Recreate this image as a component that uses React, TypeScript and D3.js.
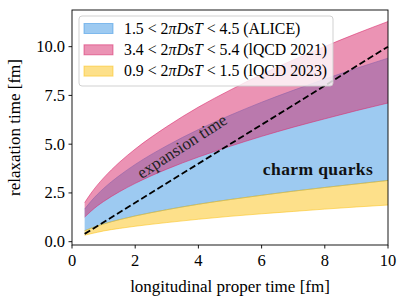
import React from 'react';
import * as d3 from 'd3';

// proper time grid [fm]
const tau = [0.4, 0.6, 0.8, 1, 1.5, 2, 3, 4, 5, 6, 7, 8, 9, 10];

// band edges [fm]
const aliceLow = [0.56, 0.69, 0.81, 0.91, 1.13, 1.32, 1.64, 1.92, 2.16, 2.38, 2.59, 2.78, 2.96, 3.14];
const aliceHigh = [1.67, 2.07, 2.42, 2.73, 3.39, 3.96, 4.92, 5.75, 6.48, 7.15, 7.76, 8.34, 8.89, 9.41];
const lqcd21Low = [1.26, 1.56, 1.83, 2.06, 2.56, 2.99, 3.72, 4.34, 4.89, 5.4, 5.87, 6.3, 6.72, 7.11];
const lqcd21High = [2.0, 2.48, 2.9, 3.27, 4.07, 4.75, 5.9, 6.9, 7.77, 8.58, 9.32, 10.01, 10.67, 11.29];
const lqcd23Low = [0.33, 0.41, 0.48, 0.55, 0.68, 0.79, 0.98, 1.15, 1.3, 1.43, 1.55, 1.67, 1.78, 1.88];
const lqcd23High = [0.56, 0.69, 0.81, 0.91, 1.13, 1.32, 1.64, 1.92, 2.16, 2.38, 2.59, 2.78, 2.96, 3.14];

// expansion time line (tau_R = tau)
const expTau = [0.4, 10];
const expVal = [0.4, 10];

const xTicks = [0, 2, 4, 6, 8, 10];
const yTicks = [0, 2.5, 5, 7.5, 10];

const bands = [
  { lo: aliceLow, hi: aliceHigh, color: '#3c95e4', alpha: 0.5, label: ['1.5', '4.5', 'ALICE'] },
  { lo: lqcd23Low, hi: lqcd23High, color: '#fbc115', alpha: 0.5, label: ['0.9', '1.5', 'lQCD 2023'] },
  { lo: lqcd21Low, hi: lqcd21High, color: '#d8286a', alpha: 0.5, label: ['3.4', '5.4', 'lQCD 2021'] },
];
const legendOrder = [0, 2, 1];

const FONT = '"Liberation Serif", "DejaVu Serif", serif';

const App = () => {
  const W = 407, H = 304;
  const left = 72, right = 388, top = 10, bottom = 245;

  const x = d3.scaleLinear().domain([0, 10]).range([left, right]);
  const y = d3.scaleLinear().domain([-0.17, 11.88]).range([bottom, top]);

  const area = (lo: number[], hi: number[]) =>
    d3.area<number>()
      .x((_, i) => x(tau[i]))
      .y0((_, i) => y(lo[i]))
      .y1((_, i) => y(hi[i]))
      .curve(d3.curveMonotoneX)(tau);

  const edge = (vals: number[]) =>
    d3.line<number>()
      .x((_, i) => x(tau[i]))
      .y((_, i) => y(vals[i]))
      .curve(d3.curveMonotoneX)(tau);

  const expLine = d3.line<number>()
    .x((_, i) => x(expTau[i]))
    .y((d) => y(d))(expVal);

  const mathLabel = (lo: string, hi: string, name: string) => (
    <>
      {lo} &lt; 2<tspan fontStyle="italic">π</tspan>
      <tspan fontStyle="italic">Ds</tspan><tspan fontStyle="italic">T</tspan> &lt; {hi} ({name})
    </>
  );

  return (
    <svg width={W} height={H} style={{ position: 'absolute', left: 0, top: 0 }} fontFamily={FONT}>
      <rect x={0} y={0} width={W} height={H} fill="white" />
      {bands.map((b, k) => (
        <g key={k}>
          <path d={area(b.lo, b.hi) || ''} fill={b.color} fillOpacity={b.alpha} />
          <path d={edge(b.lo) || ''} fill="none" stroke={b.color} strokeOpacity={0.55} strokeWidth={1} />
          <path d={edge(b.hi) || ''} fill="none" stroke={b.color} strokeOpacity={0.55} strokeWidth={1} />
        </g>
      ))}
      <path d={expLine || ''} fill="none" stroke="black" strokeWidth={1.8} strokeDasharray="6.5,3" />

      <text
        transform={`translate(185,151) rotate(-33)`}
        textAnchor="middle"
        fontSize={17}
        fill="#222"
      >expansion time</text>
      <text x={318} y={175} textAnchor="middle" fontSize={17.5} fontWeight="bold" letterSpacing={0.4} fill="#111">charm quarks</text>

      {/* frame */}
      <rect x={left} y={top} width={right - left} height={bottom - top} fill="none" stroke="black" strokeWidth={0.9} />

      {/* x axis */}
      {xTicks.map((t) => (
        <g key={t}>
          <line x1={x(t)} x2={x(t)} y1={bottom} y2={bottom + 3.5} stroke="black" strokeWidth={0.9} />
          <text x={x(t)} y={bottom + 21} textAnchor="middle" fontSize={16.5}>{t}</text>
        </g>
      ))}
      {yTicks.map((t) => (
        <g key={t}>
          <line x1={left - 3.5} x2={left} y1={y(t)} y2={y(t)} stroke="black" strokeWidth={0.9} />
          <text x={left - 7} y={y(t) + 5.5} textAnchor="end" fontSize={16.5}>{t.toFixed(1)}</text>
        </g>
      ))}
      <text x={(left + right) / 2} y={292} textAnchor="middle" fontSize={17}>longitudinal proper time [fm]</text>
      <text transform={`translate(20,${(top + bottom) / 2}) rotate(-90)`} textAnchor="middle" fontSize={17}>relaxation time [fm]</text>

      {/* legend */}
      <rect x={79} y={16} width={254} height={70} rx={3} fill="white" fillOpacity={0.8} stroke="#cccccc" strokeWidth={0.9} />
      {legendOrder.map((k, row) => {
        const b = bands[k];
        const cy = 28.5 + row * 21.3;
        return (
          <g key={k}>
            <rect x={84} y={cy - 5} width={29} height={10} fill={b.color} fillOpacity={b.alpha} stroke={b.color} strokeOpacity={0.55} />
            <text x={124} y={cy + 5} fontSize={15.8}>{mathLabel(b.label[0], b.label[1], b.label[2])}</text>
          </g>
        );
      })}
    </svg>
  );
};

export default App;
